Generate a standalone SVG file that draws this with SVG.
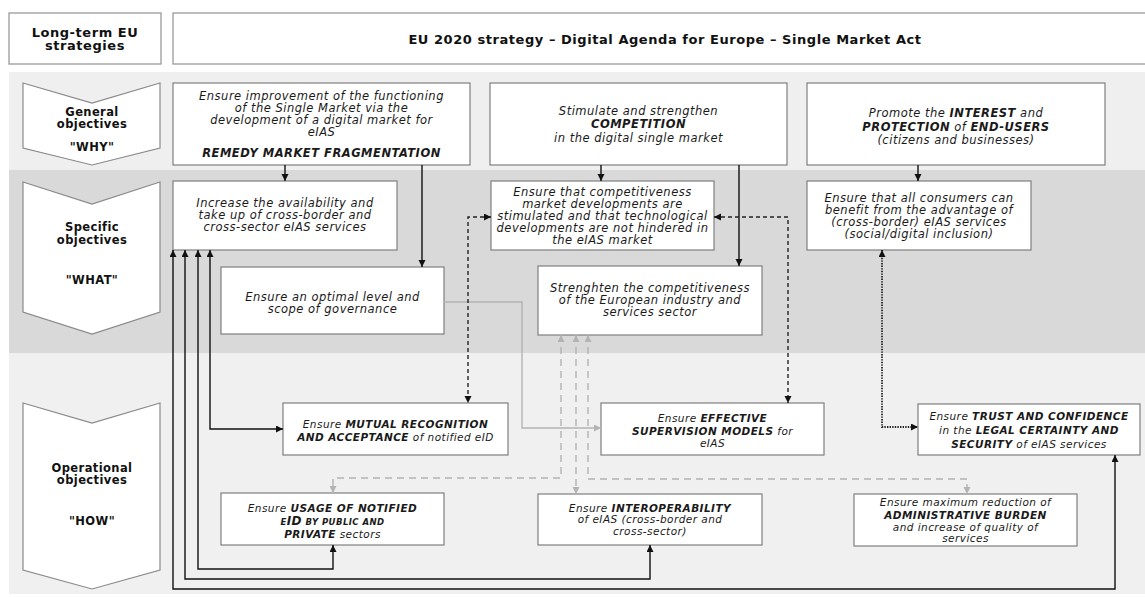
<svg xmlns="http://www.w3.org/2000/svg" width="1145" height="597" viewBox="0 0 1145 597">
<defs>
<style>
.box{fill:#fff;stroke:#7f7f7f;stroke-width:1.2}
.hbox{fill:#fff;stroke:#9a9a9a;stroke-width:1.3}
.chev{fill:#fff;stroke:#8a8a8a;stroke-width:1.2}
.t{font-family:"DejaVu Sans",Verdana,sans-serif;font-size:11.5px;letter-spacing:0.5px;font-style:italic;fill:#1a1a1a;text-anchor:middle}
.s{font-size:10.5px;letter-spacing:0.45px}
.b{font-weight:bold}
.h{font-family:"DejaVu Sans",Verdana,sans-serif;font-size:13px;letter-spacing:0.55px;font-weight:bold;fill:#111;text-anchor:middle}
.c{font-family:"DejaVu Sans",Verdana,sans-serif;font-size:11.5px;letter-spacing:0.4px;font-weight:bold;fill:#111;text-anchor:middle}
.k{fill:none;stroke:#111;stroke-width:1.4}
.kd{fill:none;stroke:#222;stroke-width:1.4;stroke-dasharray:4 3}
.ko{fill:none;stroke:#222;stroke-width:1.8;stroke-dasharray:1.4 1.2}
.g{fill:none;stroke:#b3b3b3;stroke-width:1.4}
.gd{fill:none;stroke:#b3b3b3;stroke-width:1.4;stroke-dasharray:7 5}
</style>
<marker id="ab" markerUnits="userSpaceOnUse" markerWidth="8" markerHeight="8" refX="7" refY="3.5" orient="auto-start-reverse"><path d="M0,0 L7,3.5 L0,7 z" fill="#111"/></marker>
<marker id="ag" markerUnits="userSpaceOnUse" markerWidth="8" markerHeight="8" refX="7" refY="3.5" orient="auto-start-reverse"><path d="M0,0 L7,3.5 L0,7 z" fill="#b3b3b3"/></marker>
</defs>
<rect width="1145" height="597" fill="#fff"/>
<rect x="9" y="72" width="1136" height="98" fill="#efefef"/>
<rect x="9" y="170" width="1136" height="183" fill="#d9d9d9"/>
<rect x="9" y="353" width="1136" height="241" fill="#f0f0f0"/>

<g id="header-left"><rect class="hbox" x="9" y="13" width="152" height="51"/><text class="h" x="85" y="37">Long-term EU</text><text class="h" x="85" y="50">strategies</text></g>
<g id="header-main"><rect class="hbox" x="173" y="13" width="980" height="51"/><text class="h" x="665" y="44">EU 2020 strategy – Digital Agenda for Europe – Single Market Act</text></g>

<g id="chev-general"><polygon class="chev" points="23,83 92,103 160,83 160,148 92,165 23,148"/><text class="c" x="92" y="116">General</text><text class="c" x="92" y="128">objectives</text><text class="c" x="92" y="151">"WHY"</text></g>
<g id="chev-specific"><polygon class="chev" points="23,182 92,204 160,182 160,312 92,334 23,312"/><text class="c" x="92" y="231">Specific</text><text class="c" x="92" y="244">objectives</text><text class="c" x="92" y="284">"WHAT"</text></g>
<g id="chev-operational"><polygon class="chev" points="23,403 92,423 160,403 160,570 92,589 23,570"/><text class="c" x="92" y="472">Operational</text><text class="c" x="92" y="484">objectives</text><text class="c" x="92" y="525">"HOW"</text></g>

<g id="g1"><rect class="box" x="173" y="83" width="297" height="82"/>
<text class="t" x="321.5" y="100">Ensure improvement of the functioning</text>
<text class="t" x="321.5" y="112">of the Single Market via the</text>
<text class="t" x="321.5" y="124">development of a digital market for</text>
<text class="t" x="321.5" y="136">eIAS</text>
<text class="t b" x="321.5" y="157">REMEDY MARKET FRAGMENTATION</text></g>
<g id="g2"><rect class="box" x="490" y="83" width="297" height="82"/>
<text class="t" x="638.5" y="115">Stimulate and strengthen</text>
<text class="t b" x="638.5" y="128">COMPETITION</text>
<text class="t" x="638.5" y="142">in the digital single market</text></g>
<g id="g3"><rect class="box" x="807" y="83" width="298" height="82"/>
<text class="t" x="956" y="117">Promote the <tspan class="b">INTEREST</tspan> and</text>
<text class="t" x="956" y="131"><tspan class="b">PROTECTION</tspan> of <tspan class="b">END-USERS</tspan></text>
<text class="t" x="956" y="144">(citizens and businesses)</text></g>

<g id="s1"><rect class="box" x="173" y="181" width="224" height="69"/>
<text class="t" x="285" y="207">Increase the availability and</text>
<text class="t" x="285" y="219">take up of cross-border and</text>
<text class="t" x="285" y="231">cross-sector eIAS services</text></g>
<g id="s-gov"><rect class="box" x="221" y="267" width="223" height="67"/>
<text class="t" x="332.5" y="301">Ensure an optimal level and</text>
<text class="t" x="332.5" y="313">scope of governance</text></g>
<g id="s2"><rect class="box" x="491" y="181" width="223" height="69"/>
<text class="t" x="602.5" y="196">Ensure that competitiveness</text>
<text class="t" x="602.5" y="208">market developments are</text>
<text class="t" x="602.5" y="220">stimulated and that technological</text>
<text class="t" x="602.5" y="232">developments are not hindered in</text>
<text class="t" x="602.5" y="244">the eIAS market</text></g>
<g id="s-comp"><rect class="box" x="538" y="266" width="224" height="69"/>
<text class="t" x="650" y="292">Strenghten the competitiveness</text>
<text class="t" x="650" y="304">of the European industry and</text>
<text class="t" x="650" y="316">services sector</text></g>
<g id="s3"><rect class="box" x="807" y="181" width="224" height="69"/>
<text class="t" x="919" y="202">Ensure that all consumers can</text>
<text class="t" x="919" y="214">benefit from the advantage of</text>
<text class="t" x="919" y="226">(cross-border) eIAS services</text>
<text class="t" x="919" y="238">(social/digital inclusion)</text></g>

<g id="o-mutual"><rect class="box" x="283" y="403" width="225" height="52"/>
<text class="t s" x="395.5" y="428">Ensure <tspan class="b">MUTUAL RECOGNITION</tspan></text>
<text class="t s" x="395.5" y="441"><tspan class="b">AND ACCEPTANCE</tspan> of notified eID</text></g>
<g id="o-usage"><rect class="box" x="221" y="493" width="223" height="52"/>
<text class="t s" x="332.5" y="512">Ensure <tspan class="b">USAGE OF NOTIFIED</tspan></text>
<text class="t s b" x="332.5" y="525"><tspan font-size="8.5px">E</tspan><tspan font-size="12px">ID</tspan><tspan font-size="8.5px"> BY PUBLIC AND</tspan></text>
<text class="t s" x="332.5" y="538"><tspan class="b">PRIVATE</tspan> sectors</text></g>
<g id="o-effective"><rect class="box" x="601" y="403" width="223" height="52"/>
<text class="t s" x="712.5" y="422">Ensure <tspan class="b">EFFECTIVE</tspan></text>
<text class="t s" x="712.5" y="435"><tspan class="b">SUPERVISION MODELS</tspan> for</text>
<text class="t s" x="712.5" y="447">eIAS</text></g>
<g id="o-interop"><rect class="box" x="538" y="494" width="224" height="51"/>
<text class="t s" x="650" y="512">Ensure <tspan class="b">INTEROPERABILITY</tspan></text>
<text class="t s" x="650" y="523">of eIAS (cross-border and</text>
<text class="t s" x="650" y="535">cross-sector)</text></g>
<g id="o-trust"><rect class="box" x="918" y="404" width="222" height="51"/>
<text class="t s" x="1029" y="420">Ensure <tspan class="b">TRUST AND CONFIDENCE</tspan></text>
<text class="t s" x="1029" y="434">in the <tspan class="b">LEGAL CERTAINTY AND</tspan></text>
<text class="t s" x="1029" y="448"><tspan class="b">SECURITY</tspan> of eIAS services</text></g>
<g id="o-admin"><rect class="box" x="854" y="494" width="223" height="52"/>
<text class="t s" x="965.5" y="506">Ensure maximum reduction of</text>
<text class="t s b" x="965.5" y="519">ADMINISTRATIVE BURDEN</text>
<text class="t s" x="965.5" y="531">and increase of quality of</text>
<text class="t s" x="965.5" y="542">services</text></g>

<g id="connectors">
<path class="g" d="M444,302 H522 V428 H601" marker-end="url(#ag)"/>
<path class="gd" d="M561,335 V478 H333 V493" marker-start="url(#ag)" marker-end="url(#ag)"/>
<path class="gd" d="M576,335 V494" marker-start="url(#ag)" marker-end="url(#ag)"/>
<path class="gd" d="M588,335 V479 H967 V494" marker-start="url(#ag)" marker-end="url(#ag)"/>
<path class="k" d="M285,165 V181" marker-end="url(#ab)"/>
<path class="k" d="M422,165 V267" marker-end="url(#ab)"/>
<path class="k" d="M601,165 V181" marker-end="url(#ab)"/>
<path class="k" d="M739,165 V266" marker-end="url(#ab)"/>
<path class="k" d="M918,165 V181" marker-end="url(#ab)"/>
<path class="k" d="M210,250 V429 H283" marker-start="url(#ab)" marker-end="url(#ab)"/>
<path class="k" d="M198,250 V569 H333 V545" marker-start="url(#ab)" marker-end="url(#ab)"/>
<path class="k" d="M185,250 V579 H650 V545" marker-start="url(#ab)" marker-end="url(#ab)"/>
<path class="k" d="M173,250 V589 H1115 V455" marker-start="url(#ab)" marker-end="url(#ab)"/>
<path class="kd" d="M491,217 H468 V403" marker-start="url(#ab)" marker-end="url(#ab)"/>
<path class="kd" d="M714,217 H788 V403" marker-start="url(#ab)" marker-end="url(#ab)"/>
<path class="ko" d="M882,250 V427 H918" marker-start="url(#ab)" marker-end="url(#ab)"/>
</g>
</svg>
